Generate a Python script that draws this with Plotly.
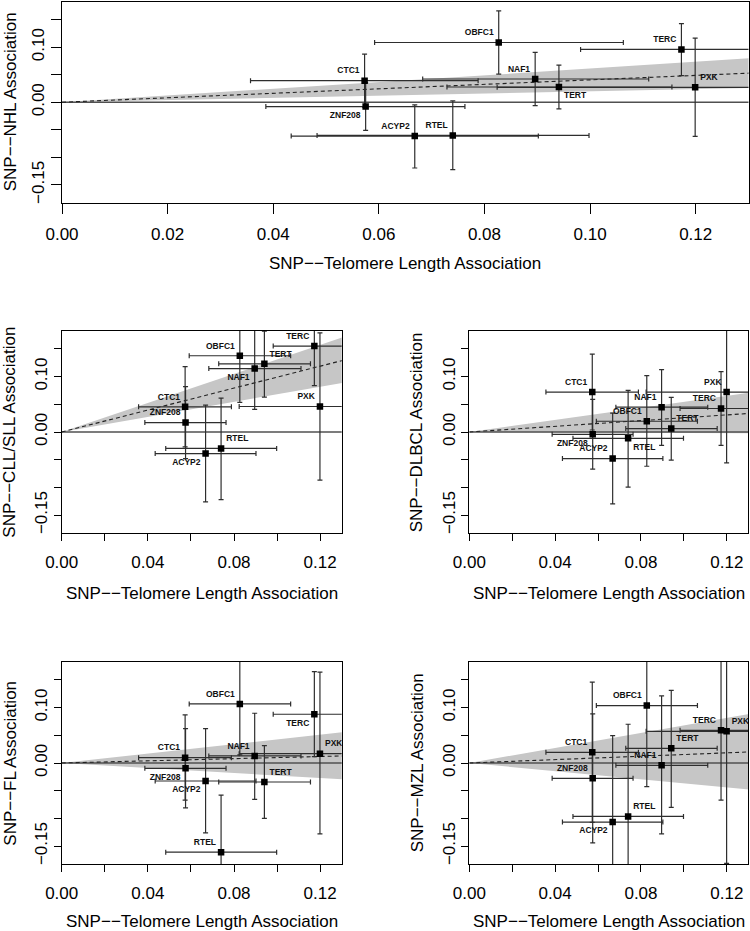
import plotly.graph_objects as go

# ---------------- data ----------------
genes = ["ACYP2", "CTC1", "NAF1", "OBFC1", "PXK", "RTEL", "TERC", "TERT", "ZNF208"]

# SNP -- telomere length association (shared by all panels)
tl_beta = [0.0668, 0.0573, 0.0896, 0.0827, 0.1199, 0.0740, 0.1173, 0.0941, 0.0575]
tl_lo = [0.0434, 0.0357, 0.0683, 0.0592, 0.0824, 0.0483, 0.0982, 0.0729, 0.0386]
tl_hi = [0.0902, 0.0788, 0.1111, 0.1063, 0.1574, 0.0998, 0.1364, 0.1155, 0.0763]

# SNP -- lymphoma subtype association
nhl_beta = [-0.0614, 0.0392, 0.0422, 0.1084, 0.0271, -0.0602, 0.0958, 0.0277, -0.0078]
nhl_lo = [-0.1193, -0.0089, -0.0060, 0.0512, -0.0620, -0.1223, 0.0482, -0.0120, -0.0512]
nhl_hi = [-0.0048, 0.0873, 0.0904, 0.1657, 0.1163, 0.0024, 0.1428, 0.0675, 0.0356]

cll_beta = [-0.0390, 0.0455, 0.1145, 0.1376, 0.0460, -0.0297, 0.1550, 0.1230, 0.0170]
cll_lo = [-0.1260, -0.0270, 0.0410, 0.0533, -0.0870, -0.1220, 0.0836, 0.0630, -0.0480]
cll_hi = [0.0485, 0.1180, 0.1880, 0.2220, 0.1790, 0.0610, 0.2260, 0.1820, 0.0820]

dlbcl_beta = [-0.0479, 0.0721, 0.0448, 0.0194, 0.0721, -0.0115, 0.0424, 0.0061, -0.0042]
dlbcl_lo = [-0.1297, 0.0036, -0.0242, -0.0618, -0.0558, -0.0994, -0.0240, -0.0509, -0.0670]
dlbcl_hi = [0.0340, 0.1406, 0.1127, 0.1018, 0.2000, 0.0752, 0.1090, 0.0624, 0.0588]

fl_beta = [-0.0325, 0.0096, 0.0127, 0.1066, 0.0169, -0.1610, 0.0880, -0.0343, -0.0096]
fl_lo = [-0.1260, -0.0670, -0.0657, 0.0145, -0.1280, -0.2640, 0.0114, -0.1000, -0.0810]
fl_hi = [0.0620, 0.0867, 0.0898, 0.1987, 0.1639, -0.0580, 0.1650, 0.0313, 0.0620]

mzl_beta = [-0.1066, 0.0193, -0.0042, 0.1036, 0.0572, -0.0964, 0.0590, 0.0265, -0.0277]
mzl_lo = [-0.2630, -0.1070, -0.1280, -0.0428, -0.1810, -0.2630, -0.0670, -0.0800, -0.1440]
mzl_hi = [0.0494, 0.1458, 0.1210, 0.2500, 0.2950, 0.0699, 0.1850, 0.1310, 0.0886]

# IVW causal estimate (slope through origin) with 95% CI
subtypes = ["NHL", "CLL/SLL", "DLBCL", "FL", "MZL"]
ivw_est = [0.406, 0.990, 0.257, 0.098, 0.153]
ivw_lo = [0.200, 0.680, -0.019, -0.227, -0.367]
ivw_hi = [0.612, 1.310, 0.542, 0.426, 0.680]

x_ticks = [0.00, 0.02, 0.04, 0.06, 0.08, 0.10, 0.12]
y_ticks = [-0.15, -0.10, -0.05, 0.00, 0.05, 0.10, 0.15]
y_tick_text = ["\u22120.15", "", "", "0.00", "", "0.10", ""]

# ---------------- styling / layout ----------------
W, H = 750, 931
FONT = "Liberation Sans, Arial, sans-serif"
XR = [0, 0.13]
YR = [-0.1828, 0.1828]
XEND = 0.2  # lines extended beyond the axis, clipped by the plot area

series = [
    (nhl_beta, nhl_lo, nhl_hi),
    (cll_beta, cll_lo, cll_hi),
    (dlbcl_beta, dlbcl_lo, dlbcl_hi),
    (fl_beta, fl_lo, fl_hi),
    (mzl_beta, mzl_lo, mzl_hi),
]

# pixel boxes: left, right, top, bottom
boxes = [
    (62, 748.5, 1.5, 203),
    (61.7, 341.7, 330.7, 533.3),
    (469.3, 748.3, 330.7, 533.3),
    (61.7, 341.7, 661.7, 864.3),
    (469.3, 748.3, 661.7, 864.3),
]
title_gap = [61, 60, 60, 57, 57]
ticklen = [10, 7, 7, 7, 7]
x_show_all = [True, False, False, False, False]

TL, TR, BL, BR = "top left", "top right", "bottom left", "bottom right"
label_pos = [
    # ACYP2 CTC1 NAF1 OBFC1 PXK RTEL TERC TERT ZNF208
    [TL, TL, TL, TL, TR, TL, TL, BR, BL],
    [BL, TL, BL, TL, TL, TR, TL, TR, TL],
    [TL, TL, TL, TL, TL, BR, TL, TR, BL],
    [BL, TL, TL, TL, TR, TL, BL, TR, BL],
    [BL, TL, TL, TL, TR, TR, TL, TR, TL],
]

fig = go.Figure()
annotations = []
layout = dict(
    width=W, height=H, autosize=False,
    margin=dict(l=0, r=0, t=0, b=0, pad=0, autoexpand=False),
    paper_bgcolor="white", plot_bgcolor="white",
    showlegend=False,
    font=dict(family=FONT, color="black"),
)

for i, (sub, (b, lo, hi)) in enumerate(zip(subtypes, series)):
    n = "" if i == 0 else str(i + 1)
    xa, ya = "x" + n, "y" + n
    L, R, T, B = boxes[i]

    # CI wedge of the IVW estimate
    fig.add_trace(go.Scatter(
        x=[0, XEND, XEND, 0], y=[0, ivw_lo[i] * XEND, ivw_hi[i] * XEND, 0],
        fill="toself", fillcolor="#C6C6C6", line=dict(width=0),
        mode="lines", hoverinfo="skip", xaxis=xa, yaxis=ya))
    # zero line
    fig.add_trace(go.Scatter(
        x=[0, XEND], y=[0, 0], mode="lines",
        line=dict(color="#505050", width=1.4), hoverinfo="skip", xaxis=xa, yaxis=ya))
    # IVW slope
    fig.add_trace(go.Scatter(
        x=[0, XEND], y=[0, ivw_est[i] * XEND], mode="lines",
        line=dict(color="#222222", width=1.1, dash="4px,3px"),
        hoverinfo="skip", xaxis=xa, yaxis=ya))
    # points with error bars
    fig.add_trace(go.Scatter(
        x=tl_beta, y=b, mode="markers+text", text=genes,
        textposition=label_pos[i],
        textfont=dict(family=FONT, size=8.5, color="#111111", weight="bold"),
        marker=dict(symbol="square", size=6.5, color="black"),
        error_x=dict(type="data", symmetric=False,
                     array=[h - v for h, v in zip(tl_hi, tl_beta)],
                     arrayminus=[v - l for v, l in zip(tl_beta, tl_lo)],
                     color="#2e2e2e", thickness=1.2, width=2.5),
        error_y=dict(type="data", symmetric=False,
                     array=[h - v for h, v in zip(hi, b)],
                     arrayminus=[v - l for v, l in zip(b, lo)],
                     color="#2e2e2e", thickness=1.2, width=2.5),
        cliponaxis=True,
        xaxis=xa, yaxis=ya))

    xt_text = ["%.2f" % v if (x_show_all[i] or j % 2 == 0) else "" for j, v in enumerate(x_ticks)]
    layout["xaxis" + n] = dict(
        domain=[L / W, R / W], anchor=ya, range=XR, automargin=False,
        showgrid=False, zeroline=False,
        showline=True, linecolor="black", linewidth=1, mirror=True,
        ticks="outside", ticklen=ticklen[i], tickwidth=1, tickcolor="black",
        tickvals=x_ticks, ticktext=xt_text, ticklabelstandoff=6,
        tickfont=dict(family=FONT, size=17, color="black"),
    )
    layout["yaxis" + n] = dict(
        domain=[1 - B / H, 1 - T / H], anchor=xa, range=YR, automargin=False,
        showgrid=False, zeroline=False,
        showline=True, linecolor="black", linewidth=1, mirror=True,
        ticks="outside", ticklen=ticklen[i], tickwidth=1, tickcolor="black",
        tickvals=y_ticks, ticktext=y_tick_text, tickangle=-90, ticklabelstandoff=0,
        tickfont=dict(family=FONT, size=17, color="black"),
    )
    # axis titles
    annotations.append(dict(
        text="SNP\u2212\u2212Telomere Length Association", showarrow=False,
        xref="paper", yref="paper", x=(L + R) / 2 / W,
        y=1 - (B + title_gap[i]) / H, xanchor="center", yanchor="middle",
        font=dict(family=FONT, size=17, color="black")))
    annotations.append(dict(
        text="SNP\u2212\u2212%s Association" % sub, showarrow=False, textangle=-90,
        xref="paper", yref="paper", x=(L - 52) / W,
        y=1 - (T + B) / 2 / H, xanchor="center", yanchor="middle",
        font=dict(family=FONT, size=17, color="black")))

layout["annotations"] = annotations
fig.update_layout(**layout)
fig.write_html(
    "out.html",
    config={"displayModeBar": False},
    post_script="document.body.style.margin='0';document.body.style.overflow='hidden';",
)
